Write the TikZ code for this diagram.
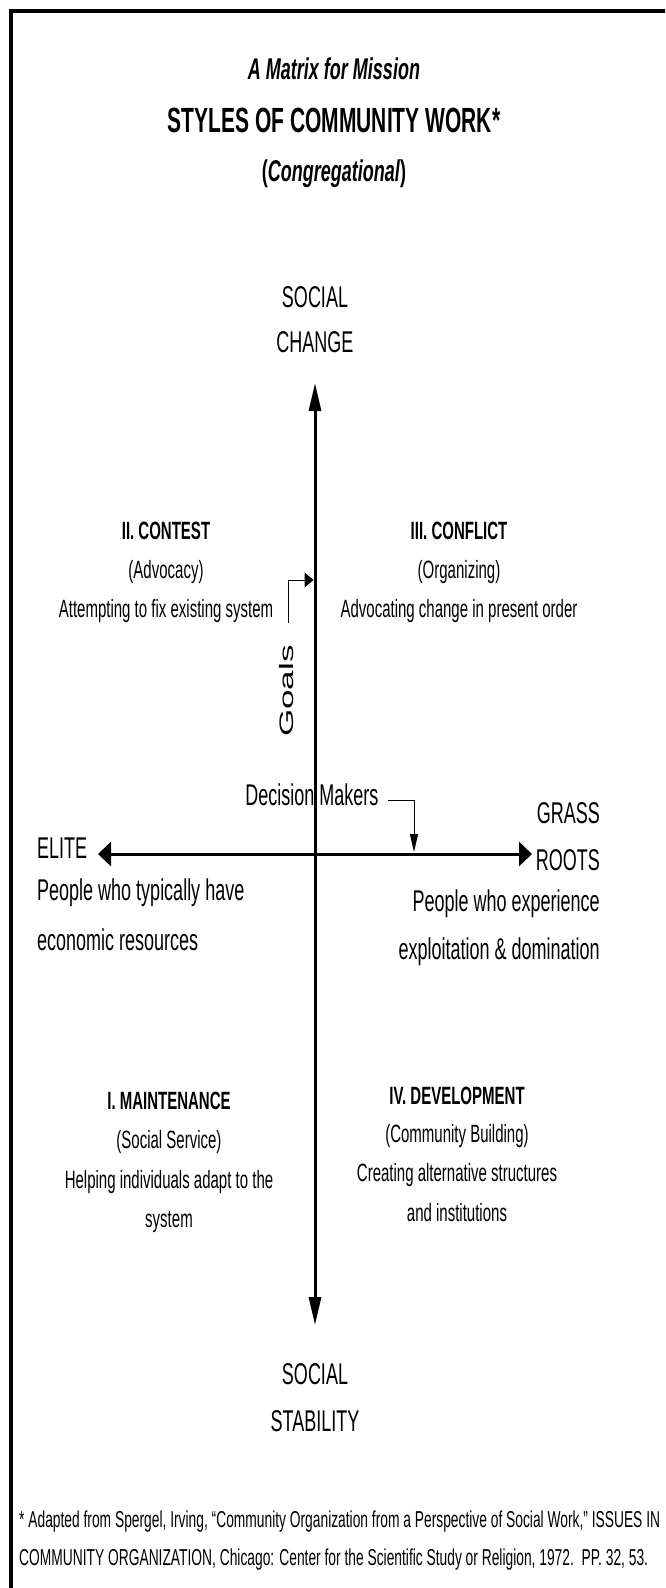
\documentclass[tikz,border=0pt]{standalone}
\usepackage{fontspec}
\setmainfont{Liberation Sans}
\newfontfamily\narrowsans{Liberation Sans}[FakeStretch=0.6]
\newfontfamily\widesans{Liberation Sans}[FakeStretch=1.8]
\usetikzlibrary{arrows.meta}
\newcommand{\pxsize}[1]{\fontsize{#1}{#1}\selectfont}
\tikzset{
  lbl/.style={inner sep=1pt, font=\narrowsans\pxsize{25}},
  bigl/.style={inner sep=1pt, font=\narrowsans\pxsize{30}},
  head/.style={inner sep=1pt, font=\narrowsans\pxsize{25}\bfseries},
  axis/.style={black, line width=3pt},
  pointer/.style={black, line width=1pt},
}

\begin{document}
\begin{tikzpicture}[x=1pt, y=-1pt]
\useasboundingbox (0,0) rectangle (665,1588);
\clip (0,0) rectangle (665,1588);
\draw[black, line width=4pt] (11,1600) -- (11,11) -- (690,11);

\node[inner sep=1pt, font=\narrowsans\pxsize{30}\bfseries\itshape] (matrix) at (334,69) {A Matrix for Mission};
\node[inner sep=1pt, font=\narrowsans\pxsize{35}\bfseries] (styles) at (334,120) {STYLES OF COMMUNITY WORK*};
\node[inner sep=1pt, font=\narrowsans\pxsize{30}\bfseries] (congr) at (334,174) {(\textit{Congregational})};

\node[bigl] (socialtop) at (315,297) {SOCIAL};
\node[bigl] (change) at (315,342) {CHANGE};
\node[bigl] (socialbot) at (315,1374) {SOCIAL};
\node[bigl] (stability) at (315,1421) {STABILITY};

\coordinate (axn) at (315,383);
\coordinate (axs) at (315,1325);
\coordinate (axw) at (98,854);
\coordinate (axe) at (532,854);
\draw[axis, {Triangle[length=28pt,width=12pt]}-{Triangle[length=28pt,width=12pt]}] (axs) -- (axn);
\draw[axis, {Triangle[length=13pt,width=24pt]}-{Triangle[length=13pt,width=24pt]}] (axw) -- (axe);

\node[head] (contest) at (166,531) {II. CONTEST};
\node[lbl] (advocacy) at (166,572) {(Advocacy)};
\node[lbl] (fixing) at (166,611) {Attempting to fix existing system};

\node[head] (conflict) at (459,531) {III. CONFLICT};
\node[lbl] (organizing) at (459,572) {(Organizing)};
\node[lbl] (changing) at (459,611) {Advocating change in present order};

\node[head] (maintenance) at (169,1101) {I. MAINTENANCE};
\node[lbl] (service) at (169,1142) {(Social Service)};
\node[lbl] (helping) at (169,1182) {Helping individuals adapt to the};
\node[lbl] (system) at (169,1222) {system};

\node[head] (development) at (457,1096) {IV. DEVELOPMENT};
\node[lbl] (building) at (457,1136) {(Community Building)};
\node[lbl] (creating) at (457,1175) {Creating alternative structures};
\node[lbl] (institutions) at (457,1213) {and institutions};

\node[bigl, anchor=west] (elite) at (36,848) {ELITE};
\node[bigl, anchor=west] (typically) at (36,893) {People who typically have};
\node[bigl, anchor=west] (resources) at (36,940) {economic resources};
\node[bigl, anchor=east] (grass) at (601,813) {GRASS};
\node[bigl, anchor=east] (roots) at (601,860) {ROOTS};
\node[bigl, anchor=east] (experience) at (601,904) {People who experience};
\node[bigl, anchor=east] (exploitation) at (601,952) {exploitation \& domination};

\node[bigl] (deciders) at (312,795) {Decision Makers};
\coordinate (decidetip) at (414,852);
\draw[pointer, -{Triangle[length=18pt,width=8pt]}] (deciders.east) ++(8,5) -| (decidetip);

\node[inner sep=1pt, font=\widesans\pxsize{19.5}, rotate=90] (goals) at (287,691) {Goals};
\coordinate (goalfoot) at (288,623);
\coordinate (goaltip) at (313.5,580);
\draw[pointer, -{Triangle[length=9pt,width=15pt]}] (goalfoot) |- (goaltip);

\node[inner sep=1pt, anchor=west, font=\narrowsans\pxsize{23}] (note1) at (18,1522) {* Adapted from Spergel, Irving, “Community Organization from a Perspective of Social Work,” ISSUES IN};
\node[inner sep=1pt, anchor=west, font=\narrowsans\pxsize{23}] (note2) at (18,1560) {COMMUNITY ORGANIZATION, Chicago: Center for the Scientific Study or Religion, 1972.\ \ PP. 32, 53.};
\end{tikzpicture}
\end{document}
